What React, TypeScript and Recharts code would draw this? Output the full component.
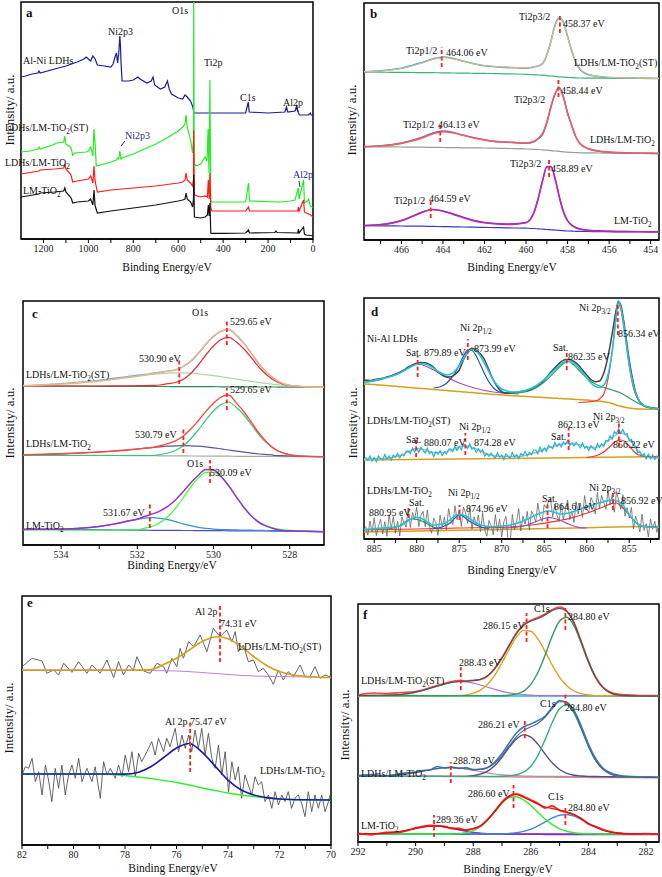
import React from "react";
import { LineChart, Line, XAxis, YAxis, ReferenceArea, ReferenceLine } from "recharts";

const SERIF = '"Liberation Serif", "Times New Roman", serif';

type Pt = { x: number; y: number };
const zip = (xs: number[], ys: number[]): Pt[] => xs.map((x, i) => ({ x, y: ys[i] }));
const pairs = (p: number[][]): Pt[] => p.map(([x, y]) => ({ x, y }));

// ---------- a: survey ----------
const aTicks = [1200, 1100, 1000, 900, 800, 700, 600, 500, 400, 300, 200, 100, 0];
const aMajor = [1200, 1000, 800, 600, 400, 200, 0];
const aLDHs = [[1300,162],[1280,163],[1250,165],[1225,166],[1220,168],[1215,166],[1150,170],[1100,173],[1050,177],[1020,180],[1010,182],[1000,180],[990,178],[980,183],[970,180],[960,174],[930,173],[900,172],[890,175],[880,183],[875,186],[870,176],[865,185],[860,203],[857,192],[855,178],[850,158],[820,158],[800,159],[780,162],[770,160],[740,156],[720,158],[712,162],[705,154],[680,150],[660,152],[648,158],[640,150],[630,145],[600,141],[580,140],[570,144],[560,142],[545,138],[535,132],[530,126],[500,126],[400,126],[300,126],[288,137],[284,127],[200,126],[125,127],[118,132],[112,127],[80,128],[72,133],[65,126],[60,124],[20,124],[12,126],[8,124],[0,124]];
const aST = [[1300,87],[1260,88],[1225,90],[1220,92],[1215,90],[1160,94],[1140,96],[1110,97],[1105,103],[1100,95],[1080,92],[1075,89],[1070,84],[1060,86],[1010,87],[1000,88],[990,92],[985,88],[980,83],[975,110],[970,95],[965,73],[930,75],[900,77],[875,79],[870,81],[865,80],[860,88],[855,80],[850,81],[800,85],[750,90],[700,95],[650,101],[600,108],[580,112],[570,115],[565,124],[560,112],[545,99],[536,86],[532,100],[531,240],[529,76],[520,73],[500,75],[480,82],[472,78],[467,110],[463,66],[459,159],[455,39],[450,37],[400,37],[300,37],[287,56],[283,38],[150,37],[100,38],[80,39],[66,51],[62,40],[42,59],[38,36],[25,38],[20,40],[12,33],[5,32],[0,32]];
const aLDHsTiO2 = [[1300,65],[1220,68],[1215,69],[1150,70],[1110,71],[1105,75],[1100,70],[1080,65],[1075,62],[1070,57],[1050,58],[1000,60],[990,63],[985,60],[980,56],[975,73],[970,58],[960,47],[900,49],[800,51],[700,53],[600,56],[580,57],[570,59],[565,66],[560,59],[545,56],[536,53],[532,60],[531,109],[528,44],[500,42],[480,43],[470,42],[466,59],[462,40],[459,66],[455,31],[450,28],[400,28],[300,28],[287,32],[283,28],[100,28],[68,28],[65,32],[62,28],[42,39],[38,27],[30,26],[10,24],[0,22]];
const aTiO2 = [[1300,42],[1220,45],[1215,46],[1150,47],[1110,48],[1105,51],[1100,47],[1080,42],[1075,40],[1070,36],[1050,37],[1000,38],[990,40],[985,37],[980,34],[975,49],[970,33],[960,26],[900,28],[800,31],[700,34],[600,38],[580,39],[570,40],[565,46],[560,40],[545,37],[536,32],[532,40],[531,64],[528,22],[500,21],[480,22],[470,24],[466,34],[462,23],[459,36],[455,6],[450,5.7],[400,5.7],[300,6],[287,9],[283,6],[170,6.5],[165,8],[160,6.5],[68,6],[65,10],[62,6],[42,12],[38,5],[30,4],[10,3.5],[0,3]];

// ---------- b: Ti 2p ----------
const bTicks = [467, 466, 465, 464, 463, 462, 461, 460, 459, 458, 457, 456, 455, 454];
const bMajor = [466, 464, 462, 460, 458, 456, 454];
const bX = [467.8,467,466.5,466,465.5,465,464.5,464,463.5,463,462.5,462,461.5,461,460.5,460,459.6,459.4,459.2,459,458.8,458.6,458.4,458.2,458,457.8,457.6,457.4,457,456.5,456,455,454,453.6];
const bTopFit = [168.5,169,170,171.5,174,177,180.5,182.3,181,178.5,176,174.5,173.5,173,172.5,172,173.5,174.5,177,185.5,198.3,214.5,221,216.9,203,189.6,178,171,165.7,163.5,162.5,162,161.7,161.5];
const bTopData = [168.3,169.2,170.3,171.8,174.5,177.5,181,183,181.5,178.8,176.3,174.3,173.3,172.6,172.2,171.8,173.2,174.2,176.6,185,199,215.5,222,217.5,203.5,189,177.5,170.5,165.4,163.4,162.4,161.9,161.6,161.4];
const bTopBg = [168,167.8,167.7,167.6,167.5,167.4,167.3,167.2,167,166.9,166.7,166.6,166.4,166.2,166,165.6,165.3,165,164.8,164.4,164,163.6,163.2,162.9,162.6,162.3,162.1,162,161.9,161.8,161.8,161.7,161.6,161.5];
const bMidFit = [93.5,94,95,96.5,99,102,106,108.3,107,104.5,102,100,98.5,98,97.5,97,99,102,107,118,134,146.7,151.5,142.5,126.6,114,103,96.5,91.5,89,88,87,86.7,86.5];
const bMidData = [93.3,94.2,95.3,97,99.5,102.8,106.8,109,107.5,104.7,102.2,100.2,98.6,97.9,97.3,96.8,98.6,101.5,106,117,133,146,152.5,143,127,114.5,103,96.2,91.2,88.8,87.8,86.9,86.6,86.4];
const bMidBg = [93.3,93.2,93.1,93,92.9,92.8,92.6,92.5,92.4,92.2,92.1,92,91.8,91.6,91.3,91,90.7,90.5,90.2,89.8,89.4,89,88.6,88.2,87.8,87.6,87.4,87.2,87.1,87,86.9,86.8,86.7,86.6];
const bBotFit = [14.5,15.5,17,19.5,23.5,28,30.6,29,26,22.5,19.5,17.5,16.5,16,16.2,17.5,29,43,60,73.5,73.5,61.5,43.5,28.5,19.5,15,12.5,11,9.8,9.2,8.8,8.5,8.3,8.2];
const bBotData = [14.2,15.2,16.6,19.2,23.2,27.6,30.2,28.7,25.6,22.2,19.1,17.2,16.2,15.6,15.9,17.2,28.3,42.5,59.4,73,73.2,61,43,28,19.1,14.6,12.2,10.7,9.5,9,8.6,8.3,8.1,8];
const bBotBg = [14.3,14.2,14.1,14,13.9,13.8,13.6,13.4,13.2,13,12.8,12.6,12.4,12.2,12,11.8,11.5,11.2,10.8,10.5,10.2,9.9,9.6,9.3,9,8.8,8.7,8.6,8.5,8.4,8.3,8.25,8.2,8.2];

// ---------- c: O 1s ----------
const cTicks = [534, 533, 532, 531, 530, 529, 528];
const cMajor = [534, 532, 530, 528];
const cX = [535,534.5,534,533.5,533,532.6,532.2,532,531.8,531.6,531.4,531.2,531,530.8,530.6,530.4,530.2,530,529.8,529.6,529.4,529.2,529,528.8,528.6,528.4,528.2,528,527.6,527.1];
const cTopFit = [159.5,160,161,162.3,164,165.8,167.8,168.8,169.8,171.2,172.4,173.8,175,178.5,184,192,201,209,214,215.8,209.9,201.7,191.5,181,172.5,166.1,161.8,159.7,158.3,157.8];
const cTopData = [159.3,160.2,161.5,163,165,166.8,168.8,169.8,170.6,171.8,172.8,174,175.2,178.3,183.5,191.5,200.5,208.5,213.5,215.3,209.5,201.3,191,180.5,172.2,166,161.7,159.6,158.2,157.7];
const cTopMain = [159,159,159,159,159,159.1,159.2,159.3,159.4,159.6,160,161.3,162.5,165.5,171.5,180,190,199,205.5,207.7,203,196,187,177.5,170,164.5,161,159.5,158.2,157.7];
const cTopBroad = [159.5,160,161,162.3,164,165.8,167.8,168.8,169.8,170.7,171.4,171.9,172.1,172.1,171.8,171.2,170.4,169.4,168.3,167.1,165.9,164.7,163.5,162.5,161.5,160.6,159.8,159.2,158.3,157.8];
const cTopBg = [159,158.9,158.9,158.8,158.7,158.7,158.6,158.6,158.6,158.5,158.5,158.5,158.4,158.4,158.4,158.3,158.3,158.3,158.2,158.2,158.2,158.1,158.1,158,158,158,157.9,157.9,157.8,157.7];
const cMidFit = [90.2,90.6,91.2,92,93,94,95.3,96,96.8,97.5,99.2,101.3,104.2,108.8,115.7,124.3,133.6,141.7,148,150,141.9,133.3,122.3,111.5,102.8,96.2,92.3,90,88.6,88.3];
const cMidMain = [89.5,89.5,89.5,89.5,89.5,89.5,89.5,89.5,89.5,89.5,90.5,92,94.5,99,106,115,125,134,140.5,143,137.5,130,120,110,102,96,92.5,90.5,89,88.5];
const cMidSide = [90.2,90.6,91.2,92,93,94,95.3,96,96.8,97.5,98.2,98.8,99.2,99.3,99.2,98.8,98.1,97.2,96.1,95,93.9,92.8,91.8,91,90.3,89.7,89.3,89,88.6,88.3];
const cMidBg = [90,89.9,89.8,89.7,89.6,89.5,89.4,89.4,89.3,89.3,89.2,89.2,89.1,89.1,89,89,88.9,88.9,88.8,88.8,88.7,88.7,88.6,88.6,88.5,88.5,88.4,88.4,88.3,88.3];
const cBotFit = [15.6,15.7,16,16.8,18.6,21,24.3,25.8,28.7,31.1,34.2,38.6,45,53.2,62.1,69.8,75.5,75,68.4,59.2,48.1,37.5,28.7,22.5,18.6,16.1,14.6,14.3,13.8,13.3];
const cBotMain = [15,15,15,15,15,15,15,15,16.8,18.8,22.5,28.3,36.6,47,57.8,67.1,72.7,72.9,67.9,58.9,48,37.6,28.9,22.8,19.1,16.7,15.4,14.6,14,13.5];
const cBotSide = [15.6,15.7,16,16.8,18.6,21,24.3,25.8,26.9,27.3,26.7,25.3,23.4,21.2,19.3,17.7,16.6,15.9,15.5,15.3,15.1,14.95,14.8,14.7,14.5,14.4,14.2,14,13.6,13.3];
const cBotBg = [15.7,15.6,15.4,15.3,15.1,15,14.9,14.8,14.8,14.7,14.7,14.6,14.6,14.5,14.5,14.4,14.4,14.3,14.3,14.2,14.2,14.1,14.1,14,14,13.9,13.9,13.8,13.6,13.3];

// ---------- d: Ni 2p ----------
const dTicks = [885, 882.5, 880, 877.5, 875, 872.5, 870, 867.5, 865, 862.5, 860, 857.5, 855, 852.5];
const dMajor = [885, 880, 875, 870, 865, 860, 855];
const dX = [886.2,885.5,885,884.5,884,883.5,883,882.5,882,881.5,881,880.5,880,879.5,879,878.5,878,877.5,877,876.5,876,875.5,875,874.5,874,873.5,873,872.5,872,871.5,871,870.5,870,869.5,869,868.5,868,867.5,867,866.5,866,865.5,865,864.5,864,863.5,863,862.5,862,861.5,861,860.5,860,859.5,859,858.5,858,857.5,857,856.5,856.3,856,855.5,855,854.5,854,853.5,853,852.5,852,851.5];
const dTopRaw = [159,158.5,159.5,160,160.7,162,163,164.5,166.3,169,172,174,175.7,176.5,176.3,174.5,171.7,167,164,162,162.3,164.5,169,179,187.3,190.7,189,185,179,169,159,152,147.3,146,146,146.5,147,148,148.5,150,152.3,155,159,164,169,173.5,177.3,179.5,179.5,177.5,174,169,164,159.5,157.3,158,165.7,182.3,205.7,230.7,237.3,234,209,179,155.7,140.7,135,132.3,131.5,130.7,130.5];
const dTopFit = [156.7,157.8,158.6,159.4,160.3,161.5,162.8,164.2,166,168.3,170.8,173,174.8,175.5,175,173.3,170.8,167.8,165.3,164,165,168,173,180,186.5,189.5,188,183,175.5,167,159,153.5,150,148.2,147.3,147,147.2,148,149.2,150.8,153,156,159.5,163.5,167.5,171.5,175,177.5,178,176,172,166.5,161,156,152.5,151.5,154,164,188,225,238.5,232,206,175,153,141,135,132.5,131.2,130.7,130.3];
const dTopBg = [155,154.8,154.4,154.1,153.7,153.4,153,152.7,152.3,152,151.6,151.3,150.9,150.6,150.2,149.9,149.5,149.2,148.8,148.5,148.1,147.8,147.4,147.1,146.7,146.4,146,145.7,145.3,145,144.6,144.3,144,143.7,143.5,143.2,143,142.7,142.5,142.2,142,141.7,141.5,141.2,141,140.7,140.5,140.2,140,139.7,139.5,139.2,139,138.6,138.2,137.8,137.3,136.5,135.5,134,133.4,132.8,131.8,131,130.5,130.1,129.9,129.8,129.7,129.7,129.6];
const dTopSat1 = [[886.2,156.5],[885,158],[884,160],[883,163.5],[882,167],[881,171],[880.5,173.5],[880,174.8],[879.5,174.5],[879,173],[878,169],[877,164.5],[876,160],[875,156],[874,153],[873,150.5],[872,148.5],[871,147],[870,146],[869,145.5],[868,145]];
const dTopP12 = [[878,151],[877,153],[876,160],[875.5,166],[875,174],[874.5,183],[874,189],[873.5,188.5],[873,183],[872.5,174],[872,165],[871.5,157],[871,151.5],[870.5,148],[870,146.5],[869,145.5]];
const dTopSat2 = [[869,145.5],[868,146],[867,147.5],[866,151],[865,157],[864,165],[863,173.5],[862.3,177.5],[861.5,174],[861,169.5],[860,161],[859,155],[858,151.5],[857,149],[856,146],[855,141],[854,136],[853,132.5],[852,130.5],[851.5,130]];
const dTopP32 = [[861,136.5],[860,137],[859,138],[858.5,140],[858,145],[857.5,160],[857,188],[856.6,218],[856.3,236],[856,230],[855.5,204],[855,173],[854.5,151],[854,140],[853.5,134.5],[853,132],[852,130.5],[851.5,130]];
// fine grid (0.25 eV) for the two noisy spectra
const dXn = [886,
  885.75,885.5,885.25,885, 884.75,884.5,884.25,884, 883.75,883.5,883.25,883, 882.75,882.5,882.25,882,
  881.75,881.5,881.25,881, 880.75,880.5,880.25,880, 879.75,879.5,879.25,879, 878.75,878.5,878.25,878,
  877.75,877.5,877.25,877, 876.75,876.5,876.25,876, 875.75,875.5,875.25,875, 874.75,874.5,874.25,874,
  873.75,873.5,873.25,873, 872.75,872.5,872.25,872, 871.75,871.5,871.25,871, 870.75,870.5,870.25,870,
  869.75,869.5,869.25,869, 868.75,868.5,868.25,868, 867.75,867.5,867.25,867, 866.75,866.5,866.25,866,
  865.75,865.5,865.25,865, 864.75,864.5,864.25,864, 863.75,863.5,863.25,863, 862.75,862.5,862.25,862,
  861.75,861.5,861.25,861, 860.75,860.5,860.25,860, 859.75,859.5,859.25,859, 858.75,858.5,858.25,858,
  857.75,857.5,857.25,857, 856.75,856.5,856.25,856, 855.75,855.5,855.25,855, 854.75,854.5,854.25,854,
  853.75,853.5,853.25,853, 852.75,852.5,852.25,852, 851.75,851.5];
const dMidRaw = [82,
  78.5,83,78,81.5, 77.5,83,80.6,79, 84.5,80,83,79, 84,81.8,85.6,81,
  84.7,83,87.7,88, 85.5,91,87,91, 86.7,91.7,88.6,86, 90.7,85.4,87.2,82.5,
  87.1,84.7,88.3,83.5, 87,85.1,89.8,90, 87.4,92.8,88.6,92.5, 89.1,95.1,93,90.5,
  95.2,89.8,91.4,86.5, 90,86.5,89,83, 85.5,82.5,86,83, 80.9,86.3,81.7,84,
  79.5,85.1,82.7,80.8, 86.4,81.9,84.5,80.5, 85.5,83.5,87.5,83, 86.5,84.5,89,89,
  85.2,91.9,87.2,91, 87.6,93.7,91.9,90.5, 96.5,92.5,95.5,92, 96.8,94.5,98.3,93.5,
  96.1,93.2,96.8,94, 91.2,96,90.7,92.5, 88.4,93.4,90.9,89, 95.3,91.7,95.3,92.5,
  98.7,97.9,103.2,100, 107.5,105,110.5,105.5, 109.5,104.5,105.5,98, 99.5,93.5,93,86,
  87.5,82.5,85.5,80, 84.9,80.3,84.2,79.5, 83,80];
const dMidFit = [[886.2,80],[884,80.5],[883,81.5],[882,83.5],[881,87],[880,90.5],[879,89],[878,86.5],[877,86.5],[876,88.5],[875,92],[874.3,93.3],[873,90],[872,86],[871,83.5],[870,82.5],[868,82.5],[867,84],[866,86.5],[865,89.5],[864,92.5],[863,94.8],[862,95.7],[861,94.5],[860,92],[859,91.5],[858,95],[857,101],[856.5,104.5],[856,106],[855.5,104.5],[855,100],[854.5,94],[854,88.5],[853.5,84.5],[853,82],[852,81],[851.5,81]];
const dMidP32 = [[860,81.5],[859,83],[858,87],[857,94.5],[856.5,98],[856,99],[855.5,97.5],[855,93],[854.5,88],[854,84.5],[853,82.5],[851.5,82.3]];
const dMidBg = [[886.2,79],[870,80.5],[860,81.5],[855,82],[851.5,82.3]];
const dBotRaw = [12.7,
  3.8,18,7.1,21.3, 3.4,12.6,19.8,5, 17.3,2.7,24.2,10.5, 22.5,5.7,17.8,3,
  22,16.5,12,30.3, 11.5,26.7,19.3,31.7, 12.3,23.7,27.5,12.3, 29,11.8,5.8,21,
  16.2,3.5,23.8,12, 22,9.2,30.4,18.7, 14.5,33.3,19.2,28.7, 12.5,32,26,15.7,
  31.2,9.7,22.2,13.7, 24,7.3,26.6,9, 2.8,18.6,13.4,4.3, 24.4,7.6,19.8,2,
  17.2,22.5,-2,-3, 24.5,9.1,17.7,30.3, 8.1,22.9,14.8,27.7, 8.8,27.9,23.9,17,
  35.8,22.6,17.5,34.3, 30.8,38,39.8,22.3, 34.7,24.1,17.6,35, 19.3,29.6,39,19.3,
  28,16.6,37.3,25, 35.8,21.6,43.5,29.3, 27,41.6,36.3,25, 46.6,31.1,43.7,36.3,
  29.7,48.1,34.6,44, 26.8,47.3,39,29.7, 44.2,22.7,31.3,21, 31.5,10,23,16,
  7,25,8.6,15.3, 2.1,20,9.8,17.7, 6.7,15.7];
const dBotFit = [[886.2,9.7],[884,11],[882,13],[881,18.3],[880.5,20.7],[880,21.7],[879.5,20.7],[879,18.3],[878,14],[877,15],[876,19.7],[875.5,23.3],[875,24.7],[874.5,24],[874,21.7],[873,15.7],[872,13],[871,12.3],[870,13],[869,14],[868,16.3],[867,19.7],[866,24],[865,27.3],[864.5,28.3],[864,27.3],[863,25],[862,26.3],[861,29],[860,32.3],[859,35],[858,37.3],[857,39],[856.5,38.3],[856,35.7],[855.5,30.7],[855,24],[854.5,19],[854,15],[853.5,13],[853,12.3],[852,11.7],[851.5,11.7]];
const dBotP32 = [[886.2,9],[880,10],[875,11],[870,11.7],[866,14.5],[864,17.3],[862,20.7],[860,25.7],[858,32.3],[857,35.7],[856.5,36],[856,33],[855,24],[854,15],[853,12.3],[851.5,11.7]];
const dBotP12 = [[878,10.5],[877,12],[876,16.5],[875.5,21],[875,24],[874.5,22.5],[874,19],[873,14],[872,11],[871.5,10.7]];
const dBotSat1 = [[884,9.7],[883,10.5],[882,13.5],[881,19],[880.5,20],[880,19.7],[879,16.3],[878,11.7],[877,10]];
const dBotSat2 = [[870,11],[868,12],[867,14],[866,17.3],[865,20.5],[864.5,21.7],[864,21],[863,18.3],[862,14.5],[861,11.7],[860,11]];
const dBotBg = [[886.2,7],[870,9.5],[860,11.2],[855,12.3],[851.5,12.6]];

// ---------- e: Al 2p ----------
const eTicks = [82, 81, 80, 79, 78, 77, 76, 75, 74, 73, 72, 71, 70];
const eMajor = [82, 80, 78, 76, 74, 72, 70];
const eTopRaw = [[82,178.3],[81.61,186.7],[81.22,184],[81.03,171.7],[80.77,175],[80.58,170],[80.38,181.7],[80.06,172.7],[79.8,183.3],[79.48,171.7],[79.28,180],[78.96,171.7],[78.7,185],[78.44,167.3],[78.25,183.3],[78.06,170],[77.86,180],[77.67,175],[77.54,188.3],[77.28,174],[77.02,171.7],[76.76,181.7],[76.5,178.3],[76.38,171.7],[76.18,186.7],[75.99,178.3],[75.86,196.7],[75.73,186.7],[75.53,203.3],[75.34,198.3],[75.08,210],[74.82,193.3],[74.57,216.7],[74.31,208.3],[74.05,215],[73.85,203.3],[73.72,213.3],[73.6,193.3],[73.4,200],[73.21,183.3],[73.01,185],[72.82,173.3],[72.63,176.7],[72.43,170],[72.24,160.7],[72.04,175],[71.85,165],[71.66,173.3],[71.46,168.3],[71.2,180],[71.01,168.3],[70.82,168.3],[70.62,178.3],[70.43,166.7],[70.23,170],[70.04,168.3]];
const eTopFit = [[82,175],[80,175],[78,175],[77.5,174.9],[77,175.4],[76.5,180.4],[76,186.7],[75.5,195],[75,203.5],[74.5,208],[74.31,208.3],[74,206.2],[73.5,198.6],[73,188.5],[72.5,179.5],[72,173.5],[71.5,170.2],[71,168.7],[70.5,167.8],[70,167.5]];
const eTopBg = [[82,174.7],[78,174.6],[77,174.5],[76,174],[75,172.5],[74,170.5],[73,169],[72,168.5],[70,167.5]];
const eBotRaw = [[82,70],[81.87,78.3],[81.74,76.7],[81.61,86.7],[81.48,63.3],[81.35,73.3],[81.22,50],[81.09,80],[80.97,65],[80.84,43.3],[80.71,76.7],[80.58,56.7],[80.45,80],[80.32,50],[80.19,70],[80.06,80],[79.93,66.7],[79.8,86.7],[79.67,63.3],[79.48,76.7],[79.28,63.3],[79.16,78.3],[78.96,46.7],[78.83,83.3],[78.7,70],[78.57,76.7],[78.38,66.7],[78.25,80],[78.12,68.3],[77.99,90],[77.86,73.3],[77.73,93.3],[77.6,68.3],[77.47,91.7],[77.35,83.3],[77.15,93.3],[76.96,103.3],[76.83,90],[76.7,106.7],[76.5,93.3],[76.38,106.7],[76.25,98.3],[76.05,116.7],[75.92,93.3],[75.79,110],[75.66,96.7],[75.53,110],[75.41,93.3],[75.28,115],[75.15,96.7],[75.02,116.7],[74.89,90],[74.76,111.7],[74.63,86.7],[74.5,76.7],[74.37,100],[74.24,70],[74.11,93.3],[73.98,53.3],[73.85,83.3],[73.72,65],[73.6,78.3],[73.47,46.7],[73.34,70],[73.21,60],[73.08,50],[72.95,68.3],[72.82,60],[72.69,63.3],[72.56,43.3],[72.43,50],[72.3,36.7],[72.17,53.3],[72.04,40],[71.91,50],[71.79,43.3],[71.66,53.3],[71.53,36.7],[71.4,46.7],[71.27,50],[71.14,41.7],[71.01,28.3],[70.88,53.3],[70.75,33.3],[70.62,50],[70.49,36.7],[70.36,50],[70.23,33.3],[70.1,43.3],[70.04,50]];
const eBotFit = [[82,71],[79,71],[78,70.9],[77.5,72.6],[77,78.2],[76.5,87.5],[76,97],[75.5,101.5],[75,92.6],[74.5,78.9],[74,64.9],[73.5,55.2],[73,50.1],[72.5,47.4],[72,46],[71,45.2],[70,45]];
const eBotBg = [[82,71],[79,70.7],[78,69.5],[77.5,68],[77,66.5],[76.5,64.5],[76,62.5],[75.5,60],[75,57],[74.5,54.5],[74,52],[73.5,50],[73,48.5],[72.5,47],[72,46],[71.5,45.5],[71,45.2],[70,45]];

// ---------- f: C 1s ----------
const fTicks = [292, 291, 290, 289, 288, 287, 286, 285, 284, 283, 282];
const fMajor = [292, 290, 288, 286, 284, 282];
const fX = [292,291.5,291,290.5,290,289.75,289.5,289.25,289,288.75,288.5,288.25,288,287.75,287.5,287.25,287,286.75,286.5,286.25,286,285.75,285.5,285.25,285,284.75,284.5,284.25,284,283.75,283.5,283.25,283,282.5,282,281.55];
const fTopFit = [146.6,146.7,146.9,147.6,149.8,151.6,153.7,155.9,158,159.6,160.5,160.8,161.3,162.6,166.2,173.2,183.8,196.4,208.3,216.5,221,223.5,227,231.5,233.7,230.5,219,200,180.6,164.5,154.4,149.4,147.2,146.1,146,145.9];
const fTopRaw = [147,149,148.5,149.5,150.5,152,154.5,156.5,158.5,160.5,161.5,161,161.8,162.5,166,174,184.5,197,209,217.5,221.5,224.5,228,232.5,235,231,219.5,200.5,181,165,155,150,148,147,146.5,146.5];
const fTopC2 = [146.3,146.3,146.3,146.3,146.3,146.3,146.3,146.3,146.3,146.3,146.4,147.1,148.7,151.9,157.7,166.9,179.2,192.9,204.9,211.6,210.8,202.8,190.2,176.6,164.7,156.3,151,148.3,147,146.4,146.2,146.2,146.2,146.1,146,146];
const fTopC1 = [146.3,146.3,146.3,146.3,146.3,146.3,146.3,146.3,146.3,146.3,146.3,146.3,146.3,146.3,146.3,146.3,146.3,146.8,147.9,150.9,157.7,169.8,187.2,206.5,221.1,224.8,216.2,198.9,179.8,164.3,154.4,149.4,147.2,146.1,146,145.9];
const fTopC3 = [146.3,146.4,146.6,147.5,149.7,151.5,153.6,155.8,157.9,159.5,160.3,160,158.9,157,154.8,152.6,150.6,149.1,148,147.3,146.8,146.5,146.3,146.3,146.3,146.3,146.3,146.3,146.3,146.3,146.2,146.2,146.2,146.1,146,146];
const fTopBg = [146.5,146.5,146.4,146.4,146.4,146.3,146.3,146.3,146.3,146.3,146.2,146.2,146.2,146.2,146.2,146.1,146.1,146.1,146.1,146.1,146,146,146,146,146,146,145.9,145.9,145.9,145.9,145.9,145.9,145.8,145.8,145.8,145.8];
const fMidFit = [66,66.2,66.5,67.6,69.5,70.9,72.2,73.4,74.2,74.4,74,73.3,72.6,72.5,74.3,78.9,86.5,96.1,105.2,111.6,115.2,118.8,125,133.4,140.2,140,130,113.6,95.8,81.5,72.9,68.2,66.2,65,64.7,64.5];
const fMidRaw = [66.5,67.5,66,68.5,70,71.5,72,75.5,74,75,73.5,74.5,72,73,74.5,80,88.5,99,109,115,118,121.5,126,135,141.5,139,131.5,116,98,83.5,74,69.5,67,65.5,65.2,64.8];
const fMidC1 = [65.6,65.6,65.6,65.6,65.6,65.6,65.6,65.6,65.6,65.6,65.6,65.6,65.6,65.6,65.6,65.6,65.7,66.2,67.2,69.8,75.8,86.7,102.6,120,133.3,137,128.9,113.2,95.8,81.5,72.9,68.2,66.2,65,64.7,64.5];
const fMidC2 = [65.6,65.6,65.6,65.6,65.6,65.6,65.6,65.6,65.6,65.6,65.6,65.6,66.4,67.8,70.9,76.6,84.8,94.6,103,107.1,104.9,97.6,87.9,78.9,72.5,68.6,66.7,66,65.6,65.5,65.4,65.3,65.2,65,64.8,64.6];
const fMidC3 = [65.8,66,66.3,67.4,69.4,70.8,72.1,73.3,74.1,74.3,73.9,73,71.8,70.4,69.1,68,67.2,66.6,66.3,66,65.8,65.7,65.7,65.6,65.6,65.5,65.5,65.4,65.3,65.2,65.1,65,64.9,64.8,64.6,64.5];
const fMidBg = [66,66,65.9,65.9,65.8,65.8,65.7,65.7,65.6,65.6,65.5,65.5,65.4,65.4,65.3,65.3,65.2,65.2,65.1,65.1,65,65,64.9,64.9,64.8,64.8,64.7,64.7,64.6,64.6,64.5,64.5,64.4,64.4,64.3,64.3];
const fBotFit = [8.1,8.3,8.8,10.6,13.6,15,15.9,16,15.2,14,12.7,12.1,13,16.2,22.2,30.5,39.3,45.3,47.5,44.7,41.3,37.7,35,33.4,32,30.2,27.2,23.1,18.6,14.8,11.9,10,8.9,8.1,8,8];
const fBotRaw = [8.5,7.5,9.5,10,14,15.5,16.5,16.2,15.5,13.5,13.5,12,13.5,16,22.5,31,40,46,48,45.5,42,38.5,34,36,31.5,29.5,27.5,23.5,18,15.5,12.5,10.5,9,8,8.3,7.8];
const fBotC2 = [8,8,8,8,8,8,8,8,8,8,8.5,9.3,11.4,15.3,21.8,30.3,38.8,44.5,45.2,42.1,36.4,29.5,22.8,17.3,13.2,10.7,9.3,8.5,8.2,8.1,8,8,8,8,8,8];
const fBotC1 = [8,8,8,8,8,8,8,8,8,8,8,8,8,8,8,8,8,8.6,9.2,10.6,12.9,16.2,20.2,24.1,26.8,27.5,25.9,22.6,18.6,14.8,11.9,10,8.9,8.1,8,8];
const fBotC3 = [8,8.2,8.8,10.6,13.6,15,15.9,16,15.2,13.8,12.2,10.8,9.6,8.9,8.4,8.2,8,8,8,8,8,8,8,8,8,8,8,8,8,8,8,8,8,8,8,8];
const fBotBg = [8,8,8,8,7.9,7.9,7.9,7.9,7.9,7.9,7.8,7.8,7.8,7.8,7.8,7.8,7.7,7.7,7.7,7.7,7.7,7.7,7.6,7.6,7.6,7.6,7.6,7.6,7.6,7.5,7.5,7.5,7.5,7.5,7.5,7.5];

// ---------- layout helpers ----------
interface S { data: Pt[]; color: string; w?: number; lin?: boolean }
interface M { x: number; y1: number; y2: number }
interface PanelProps {
  box: [number, number, number, number];
  domain: [number, number];
  ticks: number[];
  major: number[];
  series: S[];
  marks: M[];
}

function Panel({ box, domain, ticks, major, series, marks }: PanelProps) {
  const [x0, y0, x1, y1] = box;
  const yMax = y1 - y0;
  const padX = 14;
  const padTop = 3;
  const axisH = 26;
  return (
    <div style={{ position: "absolute", left: x0 - padX, top: y0 - padTop }}>
      <LineChart width={x1 - x0 + 2 * padX} height={yMax + padTop + axisH} margin={{ top: padTop, right: padX, bottom: 0, left: padX }}>
        <XAxis
          dataKey="x"
          type="number"
          domain={domain}
          reversed
          allowDataOverflow
          ticks={ticks}
          interval={0}
          tickFormatter={(v: number) => (major.includes(v) ? String(v) : "")}
          tickSize={4}
          height={axisH}
          stroke="#000"
          tick={{ fill: "#222", fontSize: 10, fontFamily: SERIF }}
          axisLine={{ stroke: "#000", strokeWidth: 1.5 }}
        />
        <YAxis hide type="number" domain={[0, yMax]} allowDataOverflow />
        <ReferenceArea x1={domain[0]} x2={domain[1]} y1={0} y2={yMax} fill="none" stroke="#000" strokeWidth={1.5} />
        {series.map((s, i) => (
          <Line
            key={i}
            data={s.data}
            dataKey="y"
            type={s.lin ? "linear" : "monotone"}
            stroke={s.color}
            strokeWidth={s.w ?? 1.2}
            dot={false}
            isAnimationActive={false}
          />
        ))}
        {marks.map((m, i) => (
          <ReferenceLine
            key={"m" + i}
            segment={[{ x: m.x, y: m.y1 }, { x: m.x, y: m.y2 }]}
            stroke="#ff2020"
            strokeWidth={1.8}
            strokeDasharray="4 2.5"
          />
        ))}
      </LineChart>
    </div>
  );
}

function Rich({ s }: { s: string }) {
  const parts = s.split(/_\{([^}]*)\}/);
  return (
    <>
      {parts.map((p, i) =>
        i % 2 === 1 ? (
          <tspan key={i} dy={3} fontSize="0.72em">{p}</tspan>
        ) : (
          <tspan key={i} dy={i > 0 ? -3 : 0}>{p}</tspan>
        )
      )}
    </>
  );
}

type Note = [number, number, string, string?];
const BLUE = "#1c2c8c";
const notes: Note[] = [
  // a
  [172, 14, "O1s"], [108, 35, "Ni2p3"], [23, 64, "Al-Ni LDHs"], [204, 66, "Ti2p"], [240, 101, "C1s"], [283, 106, "Al2p"],
  [5, 131, "LDHs/LM-TiO_{2}(ST)"], [125, 139, "Ni2p3", BLUE], [5, 166, "LDHs/LM-TiO_{2}"], [23, 194, "LM-TiO_{2}"], [293, 178, "Al2p", BLUE],
  // b
  [519, 20, "Ti2p3/2"], [563, 27, "458.37 eV"], [406, 54, "Ti2p1/2"], [446, 56, "464.06 eV"], [574, 66, "LDHs/LM-TiO_{2}(ST)"],
  [561, 94, "458.44 eV"], [514, 103, "Ti2p3/2"], [403, 128, "Ti2p1/2"], [438, 128, "464.13 eV"], [590, 143, "LDHs/LM-TiO_{2}"],
  [510, 167, "Ti2p3/2"], [551, 172, "458.89 eV"], [394, 204, "Ti2p1/2"], [429, 202, "464.59 eV"], [614, 224, "LM-TiO_{2}"],
  // c
  [192, 316, "O1s"], [230, 325, "529.65 eV"], [139, 362, "530.90 eV"], [26, 378, "LDHs/LM-TiO_{2}(ST)"], [230, 393, "529.65 eV"],
  [135, 438, "530.79 eV"], [26, 447, "LDHs/LM-TiO_{2}"], [187, 467, "O1s"], [210, 476, "530.09 eV"], [103, 516, "531.67 eV"], [26, 529, "LM-TiO_{2}"],
  // d
  [579, 311, "Ni 2p_{3/2}"], [618, 337, "856.34 eV"], [367, 342, "Ni-Al LDHs"], [460, 331, "Ni 2p_{1/2}"], [406, 356, "Sat."],
  [424, 356, "879.89 eV"], [474, 352, "873.99 eV"], [553, 351, "Sat."], [568, 360, "862.35 eV"], [593, 420, "Ni 2p_{3/2}"],
  [367, 424, "LDHs/LM-TiO_{2}(ST)"], [459, 430, "Ni 2p_{1/2}"], [558, 428, "862.13 eV"], [406, 443, "Sat."], [424, 446, "880.07 eV"],
  [474, 446, "874.28 eV"], [551, 440, "Sat."], [613, 448, "856.22 eV"], [367, 494, "LDHs/LM-TiO_{2}"], [409, 506, "Sat."],
  [448, 496, "Ni 2p_{1/2}"], [589, 491, "Ni 2p_{3/2}"], [621, 504, "856.92 eV"], [542, 502, "Sat."], [554, 510, "864.61 eV"],
  [369, 516, "880.95 eV"], [466, 512, "874.96 eV"],
  // e
  [195, 615, "Al 2p"], [220, 627, "74.31 eV"], [238, 650, "LDHs/LM-TiO_{2}(ST)"], [165, 725, "Al 2p"], [190, 725, "75.47 eV"], [260, 774, "LDHs/LM-TiO_{2}"],
  // f
  [534, 612, "C1s"], [568, 620, "284.80 eV"], [483, 629, "286.15 eV"], [459, 666, "288.43 eV"], [361, 684, "LDHs/LM-TiO_{2}(ST)"],
  [540, 707, "C1s"], [565, 711, "284.80 eV"], [478, 728, "286.21 eV"], [453, 764, "288.78 eV"], [361, 777, "LDHs/LM-TiO_{2}"],
  [468, 797, "286.60 eV"], [548, 800, "C1s"], [568, 811, "284.80 eV"], [436, 823, "289.36 eV"], [361, 829, "LM-TiO_{2}"],
];
const letters: [number, number, string][] = [[26, 17, "a"], [370, 18, "b"], [32, 318, "c"], [371, 316, "d"], [27, 607, "e"], [363, 619, "f"]];
const xTitles: [number, number][] = [[167, 271], [512, 271], [172, 569], [512, 574], [173, 872], [508, 873]];
const yTitles: [number, number][] = [[9, 110], [351, 120], [9, 423], [352, 423], [8, 718], [344, 725]];

export default function App() {
  return (
    <div style={{ position: "absolute", left: 0, top: 0, width: 662, height: 877, overflow: "hidden", background: "#fff" }}>
      <Panel
        box={[21, 2, 313, 239]}
        domain={[0, 1300]}
        ticks={aTicks}
        major={aMajor}
        series={[
          { data: pairs(aLDHs), color: "#1a1aa0", lin: true },
          { data: pairs(aST), color: "#22ee22", lin: true },
          { data: pairs(aLDHsTiO2), color: "#ff1a1a", lin: true },
          { data: pairs(aTiO2), color: "#111", lin: true },
        ]}
        marks={[]}
      />
      <Panel
        box={[364, 3, 659, 240]}
        domain={[453.6, 467.8]}
        ticks={bTicks}
        major={bMajor}
        series={[
          { data: zip(bX, bTopBg), color: "#3cb371" },
          { data: zip(bX, bTopData), color: "#29b6d8", w: 1.6 },
          { data: zip(bX, bTopFit), color: "#f0b27a" },
          { data: zip(bX, bMidBg), color: "#9a9a9a" },
          { data: zip(bX, bMidData), color: "#4a78c0", w: 1.6 },
          { data: zip(bX, bMidFit), color: "#ff5a5a", w: 1.4 },
          { data: zip(bX, bBotBg), color: "#3a3ac8" },
          { data: zip(bX, bBotData), color: "#ff3a3a", w: 1.6 },
          { data: zip(bX, bBotFit), color: "#9b30d0", w: 1.4 },
        ]}
        marks={[
          { x: 458.37, y1: 207, y2: 226 }, { x: 464.06, y1: 173, y2: 193 }, { x: 458.44, y1: 143, y2: 160 },
          { x: 464.13, y1: 98, y2: 117 }, { x: 458.89, y1: 63, y2: 82 }, { x: 464.59, y1: 22, y2: 41 },
        ]}
      />
      <Panel
        box={[23, 301, 324, 545]}
        domain={[527.1, 535]}
        ticks={cTicks}
        major={cMajor}
        series={[
          { data: zip(cX, cTopBg), color: "#2e8b57" },
          { data: zip(cX, cTopBroad), color: "#a8d8a0" },
          { data: zip(cX, cTopMain), color: "#e0303a" },
          { data: zip(cX, cTopData), color: "#5ab4e0" },
          { data: zip(cX, cTopFit), color: "#f4b183", w: 1.4 },
          { data: zip(cX, cMidBg), color: "#aaaaaa" },
          { data: zip(cX, cMidSide), color: "#5a5a8a" },
          { data: zip(cX, cMidMain), color: "#2ecc71" },
          { data: zip(cX, cMidFit), color: "#ff4545", w: 1.4 },
          { data: zip(cX, cBotBg), color: "#4b4bd0" },
          { data: zip(cX, cBotSide), color: "#3a8fd0" },
          { data: zip(cX, cBotMain), color: "#33ff33" },
          { data: zip(cX, cBotFit), color: "#9932cc", w: 1.5 },
        ]}
        marks={[
          { x: 529.65, y1: 200, y2: 225 }, { x: 530.9, y1: 161, y2: 186 }, { x: 529.65, y1: 135, y2: 157 },
          { x: 530.79, y1: 92, y2: 117 }, { x: 530.09, y1: 62, y2: 85 }, { x: 531.67, y1: 17, y2: 43 },
        ]}
      />
      <Panel
        box={[364, 298, 659, 539]}
        domain={[851.5, 886.2]}
        ticks={dTicks}
        major={dMajor}
        series={[
          { data: zip(dX, dTopBg), color: "#d4a020", w: 1.5 },
          { data: pairs(dTopSat1), color: "#a050c0" },
          { data: pairs(dTopP12), color: "#2050c0" },
          { data: pairs(dTopSat2), color: "#30a060" },
          { data: pairs(dTopP32), color: "#ff3030" },
          { data: zip(dX, dTopRaw), color: "#444", w: 1.5 },
          { data: zip(dX, dTopFit), color: "#1fc4d8", w: 1.6 },
          { data: pairs(dMidBg), color: "#d4a020", w: 1.5 },
          { data: pairs(dMidFit), color: "#b8b0c8", w: 1.4 },
          { data: pairs(dMidP32), color: "#ff3030" },
          { data: zip(dXn, dMidRaw), color: "#1fb8d0", lin: true },
          { data: pairs(dBotBg), color: "#d4a020", w: 1.5 },
          { data: pairs(dBotP32), color: "#ff3030" },
          { data: pairs(dBotSat1), color: "#30a060" },
          { data: pairs(dBotP12), color: "#2050c0" },
          { data: pairs(dBotSat2), color: "#a050c0" },
          { data: zip(dXn, dBotRaw), color: "#666", w: 0.8, lin: true },
          { data: pairs(dBotFit), color: "#1fc4d8", w: 1.6 },
        ]}
        marks={[
          { x: 856.34, y1: 204, y2: 237 }, { x: 873.99, y1: 179, y2: 200 }, { x: 879.89, y1: 162, y2: 183 },
          { x: 862.35, y1: 169, y2: 187 }, { x: 856.22, y1: 92, y2: 116 }, { x: 862.13, y1: 89, y2: 111 },
          { x: 874.28, y1: 84, y2: 106 }, { x: 880.07, y1: 82, y2: 102 }, { x: 856.92, y1: 29, y2: 46 },
          { x: 864.61, y1: 11, y2: 37 }, { x: 874.96, y1: 19, y2: 34 }, { x: 880.95, y1: 21, y2: 31 },
        ]}
      />
      <Panel
        box={[22, 596, 331, 845]}
        domain={[70, 82]}
        ticks={eTicks}
        major={eMajor}
        series={[
          { data: pairs(eTopRaw), color: "#555", w: 0.9, lin: true },
          { data: pairs(eTopBg), color: "#c080e0" },
          { data: pairs(eTopFit), color: "#d4a017", w: 1.6 },
          { data: pairs(eBotRaw), color: "#555", w: 0.9, lin: true },
          { data: pairs(eBotBg), color: "#33ee33", w: 1.4 },
          { data: pairs(eBotFit), color: "#1a1aa8", w: 1.6 },
        ]}
        marks={[{ x: 74.31, y1: 183, y2: 240 }, { x: 75.47, y1: 73, y2: 125 }]}
      />
      <Panel
        box={[358, 604, 659, 842]}
        domain={[281.55, 292]}
        ticks={fTicks}
        major={fMajor}
        series={[
          { data: zip(fX, fTopBg), color: "#20c0d0", w: 1.5 },
          { data: zip(fX, fTopC3), color: "#b070d0" },
          { data: zip(fX, fTopC2), color: "#d9a520", w: 1.4 },
          { data: zip(fX, fTopC1), color: "#2e9e5e", w: 1.4 },
          { data: zip(fX, fTopRaw), color: "#ff4040", w: 1.6 },
          { data: zip(fX, fTopFit), color: "#555", w: 1.2 },
          { data: zip(fX, fMidBg), color: "#f08080", w: 1.5 },
          { data: zip(fX, fMidC3), color: "#9a9ab0" },
          { data: zip(fX, fMidC2), color: "#5a4a8a", w: 1.4 },
          { data: zip(fX, fMidC1), color: "#30b080", w: 1.4 },
          { data: zip(fX, fMidRaw), color: "#3a7cc0", w: 1.6 },
          { data: zip(fX, fMidFit), color: "#506080", w: 1.1 },
          { data: zip(fX, fBotBg), color: "#7030d0", w: 1.5 },
          { data: zip(fX, fBotC3), color: "#9030c0", w: 1.4 },
          { data: zip(fX, fBotC1), color: "#3a8ad0", w: 1.4 },
          { data: zip(fX, fBotC2), color: "#33ee33", w: 1.4 },
          { data: zip(fX, fBotRaw), color: "#ff2020", w: 1.8 },
          { data: zip(fX, fBotFit), color: "#e01010", w: 1.2 },
        ]}
        marks={[
          { x: 284.8, y1: 212, y2: 234 }, { x: 286.15, y1: 200, y2: 229 }, { x: 288.43, y1: 152, y2: 175 },
          { x: 284.8, y1: 137, y2: 150 }, { x: 286.21, y1: 104, y2: 122 }, { x: 288.78, y1: 59, y2: 80 },
          { x: 286.6, y1: 34, y2: 57 }, { x: 284.8, y1: 17, y2: 34 }, { x: 289.36, y1: 5, y2: 27 },
        ]}
      />
      <svg width={662} height={877} style={{ position: "absolute", left: 0, top: 0, pointerEvents: "none" }} fontFamily={SERIF}>
        {notes.map(([x, y, t, c], i) => (
          <text key={i} x={x} y={y} fontSize={10} fill={c ?? "#111"}>
            <Rich s={t} />
          </text>
        ))}
        {letters.map(([x, y, t]) => (
          <text key={t} x={x} y={y} fontSize={13} fontWeight="bold" fill="#111">{t}</text>
        ))}
        {xTitles.map(([x, y], i) => (
          <text key={"x" + i} x={x} y={y} fontSize={11.5} textAnchor="middle" fill="#111">Binding Energy/eV</text>
        ))}
        {yTitles.map(([x, y], i) => (
          <text key={"y" + i} x={x} y={y} fontSize={13} textAnchor="middle" dominantBaseline="central" transform={`rotate(-90 ${x} ${y})`} fill="#111">
            Intensity/ a.u.
          </text>
        ))}
        <line x1={296} y1={107} x2={298} y2={112} stroke="#111" strokeWidth={1} />
        <line x1={125} y1={141} x2={121} y2={146} stroke={BLUE} strokeWidth={1} />
        <line x1={299} y1={181} x2={300} y2={187} stroke={BLUE} strokeWidth={1} />
      </svg>
    </div>
  );
}
